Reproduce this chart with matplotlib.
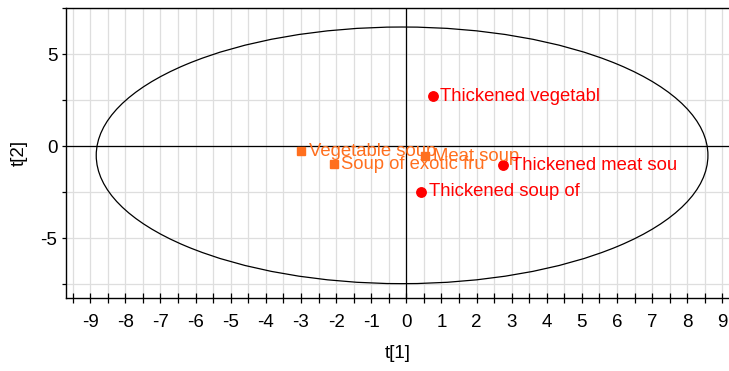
import numpy as np
import matplotlib
matplotlib.use("Agg")
import matplotlib.pyplot as plt
from matplotlib.patches import Ellipse
from matplotlib.ticker import MultipleLocator

plt.rcParams['font.family'] = ['Liberation Sans', 'DejaVu Sans']
plt.rcParams['axes.unicode_minus'] = False

# score values t[1], t[2]
names = ["Vegetable soup", "Soup of exotic fru", "Meat soup",
         "Thickened vegetabl", "Thickened meat sou", "Thickened soup of"]
t1 = [-3.0, -2.07, 0.53, 0.75, 2.76, 0.42]
t2 = [-0.27, -0.99, -0.54, 2.72, -1.03, -2.48]
groups = ["plain", "plain", "plain", "thick", "thick", "thick"]

styles = {"plain": ("s", "#FF6F1E", 6.0),
          "thick": ("o", "#FF0000", 6.8)}

fig = plt.figure(figsize=(7.29, 3.71), dpi=100)
ax = fig.add_axes([0.0901, 0.1968, 0.9099, 0.7809])
ax.set_xlim(-9.70, 9.19)
ax.set_ylim(-8.26, 7.5)

# grid
ax.xaxis.set_major_locator(MultipleLocator(1))
ax.xaxis.set_minor_locator(MultipleLocator(0.5))
ax.yaxis.set_major_locator(MultipleLocator(5))
ax.yaxis.set_minor_locator(MultipleLocator(2.5))
ax.grid(True, which="both", color="#dedede", lw=0.9, zorder=0)
ax.set_axisbelow(True)

ax.axhline(0, color="black", lw=0.9, zorder=1)
ax.axvline(0, color="black", lw=0.9, zorder=1)

# Hotelling T2 ellipse
ell = Ellipse((-0.12, -0.5), 2 * 8.71, 2 * 6.98, fill=False,
              edgecolor="black", lw=0.9, zorder=2)
ax.add_patch(ell)

for x, y, name, g in zip(t1, t2, names, groups):
    mk, col, ms = styles[g]
    ax.plot(x, y, marker=mk, color=col, ms=ms, ls="none", zorder=3)
    ax.annotate(name, (x, y), xytext=(5.5, 0), textcoords="offset points",
                color=col, fontsize=13.3, va="center", ha="left", zorder=4)

ax.spines["right"].set_visible(False)
for s in ["left", "top", "bottom"]:
    ax.spines[s].set_linewidth(1.0)

ax.tick_params(axis="x", which="both", direction="inout", length=7,
               width=0.9, pad=8, labelsize=13.5)
ax.tick_params(axis="y", which="both", direction="out", length=3,
               width=0.9, pad=3, labelsize=13.5)

ax.set_xlabel("t[1]", fontsize=13.5, labelpad=10)
ax.set_ylabel("t[2]", fontsize=13.5, labelpad=9)

fig.savefig("out.png", dpi=100)
